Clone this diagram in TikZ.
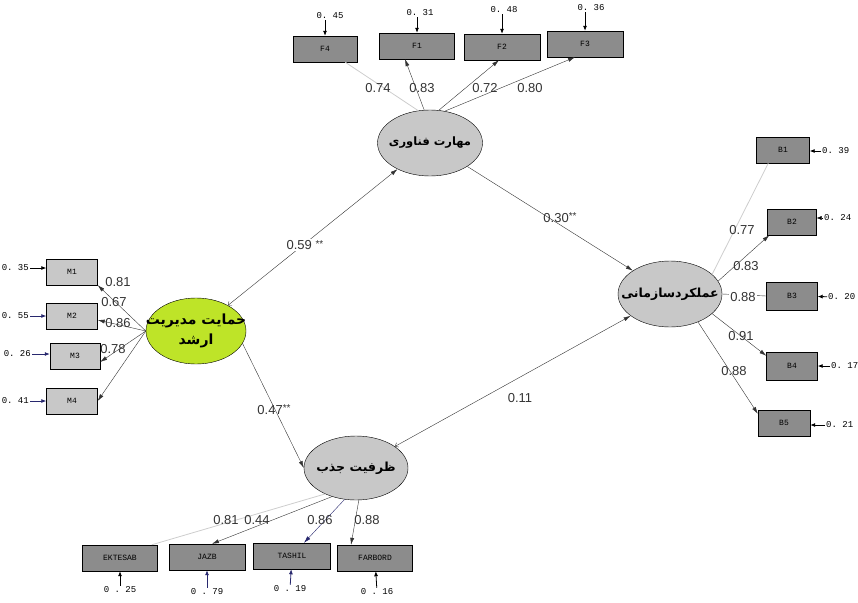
\documentclass[tikz,border=0pt]{standalone}
\usepackage{fontspec}
\setmainfont{Liberation Sans}
\setmonofont{Liberation Mono}
\newfontfamily\arabicfont[Script=Arabic]{DejaVu Sans}
\TeXXeTstate=1
\usetikzlibrary{positioning, arrows.meta, shapes.geometric}
\definecolor{latgray}{RGB}{200,200,200}
\definecolor{boxdark}{RGB}{140,140,140}
\definecolor{boxlight}{RGB}{200,200,200}
\definecolor{limegreen}{RGB}{190,228,40}
\definecolor{faint}{RGB}{205,205,205}
\definecolor{navy}{RGB}{40,40,110}
\newcommand{\fa}[1]{\makebox[0pt]{\beginR #1\endR}}

\begin{document}
\begin{tikzpicture}[x=1pt, y=-1pt,
    latent/.style = {draw, ellipse, fill=latgray, minimum width=105pt, minimum height=66pt,
        inner sep=0pt, font=\arabicfont\bfseries\fontsize{12.5}{17}\selectfont},
    item/.style = {draw, fill=boxdark, minimum height=26pt, inner sep=1pt,
        font=\ttfamily\fontsize{8}{9}\selectfont},
    err/.style = {inner sep=1pt, font=\ttfamily\fontsize{9}{10}\selectfont},
    coef/.style = {inner sep=1pt, text=black!80, font=\fontsize{13}{15}\selectfont},
    load/.style = {draw, black!80, -{Latex[length=7pt,width=4pt]}},
    pale/.style = {draw, faint, thick},
    resid/.style = {draw, thick, -{Latex[length=5pt,width=4pt]}}]
    \useasboundingbox (0,0) rectangle (858,602);

    \node[latent, font=\arabicfont\bfseries\fontsize{11.5}{17}\selectfont] (T) at (430,143)
        {\fa{مهارت فناوری}};
    \node[latent, fill=limegreen, minimum width=100pt, align=center,
        font=\arabicfont\bfseries\fontsize{14}{20}\selectfont] (H) at (196,331)
        {\fa{حمایت مدیریت}\\\fa{ارشد}};
    \node[latent, minimum width=104pt] (O) at (670,294) {\fa{عملکردسازمانی}};
    \node[latent, minimum width=104pt, minimum height=64pt] (J) at (356,468) {\fa{ظرفیت جذب}};

    \node[item, minimum width=64pt] (F4) at (325,49) {F4};
    \node[item, minimum width=75pt] (F1) at (417,46) {F1};
    \node[item, minimum width=76pt] (F2) at (502,47) {F2};
    \node[item, minimum width=76pt] (F3) at (585,44) {F3};

    \node[item, fill=boxlight, minimum width=51pt] (M1) at (72,272) {M1};
    \node[item, fill=boxlight, minimum width=51pt] (M2) at (72,316) {M2};
    \node[item, fill=boxlight, minimum width=50pt] (M3) at (75,356) {M3};
    \node[item, fill=boxlight, minimum width=51pt] (M4) at (72,401) {M4};

    \node[item, minimum width=53pt] (B1) at (783,150) {B1};
    \node[item, minimum width=49pt] (B2) at (792,222) {B2};
    \node[item, minimum width=51pt, minimum height=28pt] (B3) at (792,296) {B3};
    \node[item, minimum width=51pt, minimum height=28pt] (B4) at (792,366) {B4};
    \node[item, minimum width=52pt] (B5) at (784,423) {B5};

    \node[item, minimum width=75pt] (EK) at (120,558) {EKTESAB};
    \node[item, minimum width=76pt] (JZ) at (207,557) {JAZB};
    \node[item, minimum width=77pt] (TS) at (292,556) {TASHIL};
    \node[item, minimum width=75pt] (FB) at (375,558) {FARBORD};

    \node[err] (eF4) at (330,16) {0. 45};
    \node[err] (eF1) at (420,13) {0. 31};
    \node[err] (eF2) at (504,10) {0. 48};
    \node[err] (eF3) at (591,8) {0. 36};
    \node[err, anchor=east] (eM1) at (30,268) {0. 35};
    \node[err, anchor=east] (eM2) at (30,316) {0. 55};
    \node[err, anchor=east] (eM3) at (32,354) {0. 26};
    \node[err, anchor=east] (eM4) at (30,401) {0. 41};
    \node[err, anchor=west] (eB1) at (821,151) {0. 39};
    \node[err, anchor=west] (eB2) at (823,218) {0. 24};
    \node[err, anchor=west] (eB3) at (827,297) {0. 20};
    \node[err, anchor=west] (eB4) at (830,366) {0. 17};
    \node[err, anchor=west] (eB5) at (825,425) {0. 21};
    \node[err] (eEK) at (120,590) {0 . 25};
    \node[err] (eJZ) at (207,592) {0 . 79};
    \node[err] (eTS) at (290,589) {0 . 19};
    \node[err] (eFB) at (377,592) {0 . 16};

    \path[resid] (eF4.south -| F4) -- (F4);
    \path[resid] (eF1.south -| F1) -- (F1);
    \path[resid] (eF2.south -| F2) -- (F2);
    \path[resid] (eF3.south -| F3) -- (F3);
    \path[resid] (eM1) -- (M1.west |- eM1);
    \path[resid, navy] (eM2) -- (M2);
    \path[resid, navy] (eM3) -- (M3.west |- eM3);
    \path[resid, navy] (eM4) -- (M4);
    \path[resid] (eB1) -- (B1.east |- eB1);
    \path[resid, thin] (eB2) -- (B2.east |- eB2);
    \path[resid] (eB3) -- (B3);
    \path[resid] (eB4) -- (B4);
    \path[resid] (eB5) -- (B5.east |- eB5);
    \path[resid] (eEK) -- (EK);
    \path[resid, navy] (eJZ) -- (JZ);
    \path[resid, navy] (eTS) -- (TS);
    \path[resid] (eFB) -- (FB);

    \path[pale] (T.110) -- ([xshift=-12pt]F4.south east);
    \path[load] (T.100) -- ([xshift=-12pt]F1.south);
    \path[load] (T.75) -- ([xshift=-3pt]F2.south);
    \path[load] (T.65) -- ([xshift=-10pt]F3.south);
    \node[coef] at (378,88) {0.74};
    \node[coef] at (422,88) {0.83};
    \node[coef] at (485,88) {0.72};
    \node[coef] at (530,88) {0.80};

    \path[load] (H.west) -- (M1.south east);
    \path[load] (H.west) -- ([yshift=-4pt]M2.east);
    \path[load] (H.west) -- ([yshift=-6pt]M3.east);
    \path[load] (H.west) -- (M4.east);
    \node[coef] at (118,282) {0.81};
    \node[coef] at (114,302) {0.67};
    \node[coef] at (118,323) {0.86};
    \node[coef] at (113,349) {0.78};

    \path[pale] (O.25) -- ([xshift=12pt]B1.south west);
    \path[load] (O.15) -- ([xshift=2pt]B2.south west);
    \path[draw, black!80] (O.east) -- (B3.west);
    \path[load] (O.-25) -- ([yshift=-4pt]B4.north west);
    \path[load] (O.-45) -- ([yshift=-4pt]B5.north west);
    \node[coef] at (742,230) {0.77};
    \node[coef] at (746,266) {0.83};
    \node[coef, fill=white] at (743,297) {0.88};
    \node[coef] at (741,336) {0.91};
    \node[coef] at (734,371) {0.88};

    \path[pale] (J.-140) -- ([xshift=-6pt]EK.north east);
    \path[load] (J.-130) -- ([xshift=5pt]JZ.north);
    \path[load, navy] (J.-110) -- ([xshift=12pt]TS.north);
    \path[load] (J.-85) -- ([xshift=-24pt]FB.north);
    \node[coef] at (226,520) {0.81};
    \node[coef] at (257,520) {0.44};
    \node[coef] at (320,520) {0.86};
    \node[coef] at (367,520) {0.88};

    \path[load, {Straight Barb[length=3pt,width=5pt]}-{Latex[length=7pt,width=4pt]}] (H) -- (T);
    \path[load] (T) -- (O);
    \path[load] (H.-15) -- (J.west);
    \path[load, {Straight Barb[length=3pt,width=5pt]}-{Latex[length=7pt,width=4pt]}] (J) -- (O);
    \node[coef, fill=white] at (305,245) {0.59 \raisebox{2pt}{\fontsize{10}{10}\selectfont**}};
    \node[coef] at (560,218) {0.30\raisebox{3pt}{\fontsize{10}{10}\selectfont**}};
    \node[coef] at (274,410) {0.47\raisebox{3pt}{\fontsize{10}{10}\selectfont**}};
    \node[coef] at (520,398) {0.11};
\end{tikzpicture}
\end{document}
